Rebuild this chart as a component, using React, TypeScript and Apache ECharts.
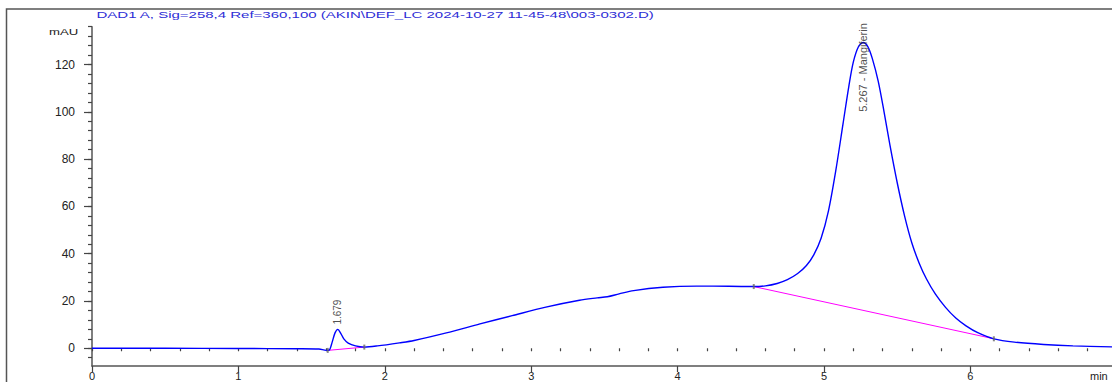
import React, { useEffect, useRef } from "react";
import * as echarts from "echarts";

// Retention time (min) and absorbance (mAU)
const retentionTimes = [
  0, 0.5, 1.0, 1.4, 1.55, 1.6, 1.62, 1.64, 1.66, 1.679, 1.7, 1.72, 1.75, 1.8,
  1.86, 1.95, 2.1, 2.2, 2.42, 2.65, 2.87, 3.1, 3.33, 3.45, 3.52, 3.6, 3.7, 3.9,
  4.13, 4.35, 4.52, 4.6, 4.68, 4.75, 4.82, 4.88, 4.93, 4.98, 5.03, 5.08, 5.13,
  5.17, 5.2, 5.235, 5.267, 5.3, 5.33, 5.37, 5.41, 5.45, 5.5, 5.55, 5.6, 5.65,
  5.7, 5.76, 5.83, 5.9, 5.97, 6.05, 6.16, 6.3, 6.5, 6.7, 6.967,
];
const absorbance = [
  0, 0, -0.1, -0.2, -0.3, -0.9, -0.8, 2.5, 6.5, 8.0, 6.2, 4.0, 2.2, 1.0, 0.5,
  1.0, 2.3, 3.3, 6.5, 10.3, 13.8, 17.4, 20.3, 21.3, 21.8, 23.0, 24.4, 25.8, 26.3,
  26.2, 26.1, 26.4, 27.4, 29.0, 31.6, 35.0, 39.5, 46.5, 58, 75, 95, 111, 121,
  127.5, 129.3, 127.5, 122.5, 113, 100, 86, 70, 56, 44.5, 36, 29.3, 23, 17.3,
  12.8, 9.5, 6.6, 4.0, 2.6, 1.6, 1.0, 0.6,
];

// Integration baselines [start, end] of each peak
const baselinePeak1 = [
  [1.61, -0.9],
  [1.86, 0.5],
];
const baselinePeak2 = [
  [4.52, 26.1],
  [6.16, 4.0],
];

// Peak annotations
const peakLabelTimes = [1.679, 5.267];
const peakLabelValues = [10, 100];
const peakLabelTexts = ["1.679", "5.267 - Mangiferin"];

// Axis ticks
const xMajorTicks = [0, 1, 2, 3, 4, 5, 6];
const xMinorTicks = Array.from({ length: 35 }, (_, k) => k / 5);
const yMajorTicks = [0, 20, 40, 60, 80, 100, 120];
const yMinorTicks = Array.from({ length: 36 }, (_, k) => -4 + k * 4);

const titleText =
  "DAD1 A, Sig=258,4 Ref=360,100 (AKIN\\DEF_LC 2024-10-27 11-45-48\\003-0302.D)";

const FONT = '"Liberation Sans", Arial, Helvetica, sans-serif';

export default function App() {
  const ref = useRef<HTMLDivElement>(null);

  useEffect(() => {
    document.body.style.margin = "0";
    if (!ref.current) return;
    const chart = echarts.init(ref.current, undefined, { renderer: "svg" });

    const signal = retentionTimes.map((t, i) => [t, absorbance[i]]);
    const markers = [...baselinePeak1, ...baselinePeak2];
    const labels = peakLabelTimes.map((t, i) => ({
      value: [t, peakLabelValues[i]],
      label: { formatter: peakLabelTexts[i], fontSize: i === 0 ? 10 : 11 },
    }));

    const axisLineStyle = { color: "#555", width: 1.5 };

    chart.setOption({
      animation: false,
      backgroundColor: "#fff",
      grid: {
        left: 92,
        right: 0,
        top: 26.7,
        bottom: 16,
        containLabel: false,
        outerBoundsMode: "none",
      },
      xAxis: [
        {
          type: "value",
          min: 0,
          max: 6.967,
          position: "bottom",
          splitLine: { show: false },
          axisLine: { show: true, onZero: false, lineStyle: axisLineStyle },
          axisTick: {
            show: true,
            length: 6,
            customValues: xMajorTicks,
            lineStyle: { color: "#444", width: 1.2 },
          },
          axisLabel: {
            show: true,
            customValues: xMajorTicks,
            margin: 4,
            fontSize: 11,
            lineHeight: 11,
            fontFamily: FONT,
            color: "#222",
          },
        },
        {
          type: "value",
          min: 0,
          max: 6.967,
          position: "bottom",
          offset: 0,
          splitLine: { show: false },
          axisLine: { show: false },
          axisTick: {
            show: true,
            length: 3,
            customValues: xMinorTicks,
            lineStyle: { color: "#444", width: 1.2 },
          },
          axisLabel: { show: false },
        },
      ],
      yAxis: [
        {
          type: "value",
          min: -7.5,
          max: 136,
          position: "left",
          splitLine: { show: false },
          axisLine: { show: true, onZero: false, lineStyle: axisLineStyle },
          axisTick: {
            show: true,
            length: 8,
            customValues: yMajorTicks,
            lineStyle: { color: "#444", width: 1.2 },
          },
          axisLabel: {
            show: true,
            customValues: yMajorTicks,
            margin: 17,
            fontSize: 12,
            fontFamily: FONT,
            color: "#222",
          },
        },
        {
          type: "value",
          min: -7.5,
          max: 136,
          position: "left",
          offset: 0,
          splitLine: { show: false },
          axisLine: { show: false },
          axisTick: {
            show: true,
            length: 4,
            customValues: yMinorTicks,
            lineStyle: { color: "#444", width: 1.2 },
          },
          axisLabel: { show: false },
        },
      ],
      series: [
        {
          type: "line",
          name: "baseline1",
          data: baselinePeak1,
          showSymbol: false,
          lineStyle: { color: "#ff00ff", width: 1 },
          z: 2,
        },
        {
          type: "line",
          name: "baseline2",
          data: baselinePeak2,
          showSymbol: false,
          lineStyle: { color: "#ff00ff", width: 1 },
          z: 2,
        },
        {
          type: "line",
          name: "DAD1 A",
          data: signal,
          showSymbol: false,
          smooth: 0.3,
          lineStyle: { color: "#0000ff", width: 1.4 },
          z: 3,
        },
        {
          type: "scatter",
          name: "markers",
          data: markers,
          symbol: "rect",
          symbolSize: [2, 5],
          itemStyle: { color: "#666" },
          z: 4,
        },
        {
          type: "scatter",
          name: "peakLabels",
          data: labels,
          symbolSize: 0,
          z: 5,
          label: {
            show: true,
            position: "top",
            distance: 0,
            rotate: 90,
            align: "left",
            verticalAlign: "middle",
            color: "#222",
            fontFamily: FONT,
          },
        },
      ],
      graphic: [
        {
          type: "rect",
          shape: { x: 6.5, y: 9, width: 1300, height: 600 },
          style: { fill: "none", stroke: "#555", lineWidth: 1.5 },
          silent: true,
        },
        {
          type: "text",
          x: 96.5,
          y: 15,
          scaleX: 1.58,
          style: {
            text: titleText,
            fontSize: 9.5,
            fontFamily: FONT,
            fill: "#2d2dd6",
            align: "left",
            verticalAlign: "middle",
          },
        },
        {
          type: "text",
          x: 49,
          y: 31.5,
          scaleX: 1.55,
          style: {
            text: "mAU",
            fontSize: 8.5,
            fontFamily: FONT,
            fill: "#222",
            align: "left",
            verticalAlign: "middle",
          },
        },
        {
          type: "text",
          x: 1090,
          y: 375.5,
          style: {
            text: "min",
            fontSize: 11,
            fontFamily: FONT,
            fill: "#222",
            align: "left",
            verticalAlign: "middle",
          },
        },
      ],
    });

    return () => chart.dispose();
  }, []);

  return (
    <div
      ref={ref}
      style={{ position: "absolute", left: 0, top: 0, width: 1112, height: 382 }}
    />
  );
}
